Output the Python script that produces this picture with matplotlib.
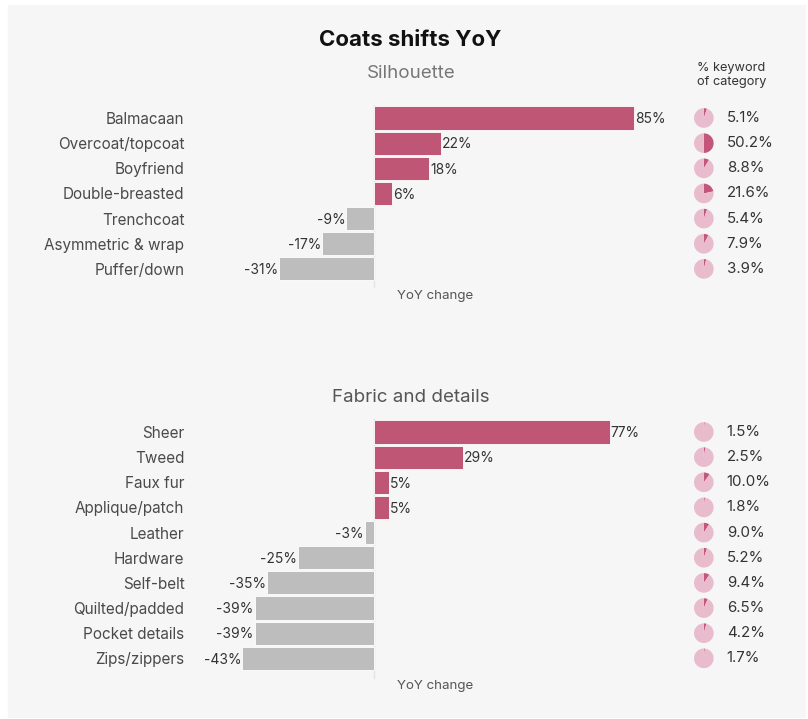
import matplotlib.pyplot as plt

W, H = 808, 719

# silhouette panel
sil_cats = ["Balmacaan", "Overcoat/topcoat", "Boyfriend", "Double-breasted",
            "Trenchcoat", "Asymmetric & wrap", "Puffer/down"]
sil_yoy = [85, 22, 18, 6, -9, -17, -31]
sil_share = [5.1, 50.2, 8.8, 21.6, 5.4, 7.9, 3.9]

# fabric and details panel
fab_cats = ["Sheer", "Tweed", "Faux fur", "Applique/patch", "Leather", "Hardware",
            "Self-belt", "Quilted/padded", "Pocket details", "Zips/zippers"]
fab_yoy = [77, 29, 5, 5, -3, -25, -35, -39, -39, -43]
fab_share = [1.5, 2.5, 10.0, 1.8, 9.0, 5.2, 9.4, 6.5, 4.2, 1.7]

PINK = "#bf5675"
GREY = "#bdbdbd"
PIE_LIGHT = "#e8bccd"
PIE_DARK = "#c2577b"
BG = "#f6f6f6"

plt.rcParams["font.family"] = ["Inter", "DejaVu Sans"]

fig = plt.figure(figsize=(W / 100, H / 100), dpi=100, facecolor="white")
fig.patches.append(plt.Rectangle((8 / W, 2 / H), 797 / W, 712 / H,
                                 transform=fig.transFigure, color=BG, zorder=-10))


def px_axes(x0, y0, x1, y1):
    # axes from pixel box (top-left origin)
    return fig.add_axes([x0 / W, 1 - y1 / H, (x1 - x0) / W, (y1 - y0) / H])


PX_PER_PCT = 3.06
AX_L, AX_R = 190, 660
ZERO_X = 374
ROW = 25.15


def panel(cats, yoy, share, top):
    n = len(cats)
    y0 = top - ROW / 2
    y1 = y0 + n * ROW
    ax = px_axes(AX_L, y0, AX_R, y1)
    ax.set_facecolor("none")
    ax.set_xlim(-(ZERO_X - AX_L) / PX_PER_PCT, (AX_R - ZERO_X) / PX_PER_PCT)
    ax.set_ylim(n - 0.5, -0.5)
    ypos = list(range(n))
    colors = [PINK if v > 0 else GREY for v in yoy]
    ax.barh(ypos, yoy, height=0.92, color=colors, edgecolor="white",
            linewidth=0.6, zorder=2)
    ax.axvline(0, ymin=-0.03, ymax=1, color="#e4e4e4", lw=1, zorder=1,
               clip_on=False)
    for y, v in zip(ypos, yoy):
        if v > 0:
            ax.text(v + 0.3, y + 0.05, f"{v}%", ha="left", va="center",
                    fontsize=10, color="#333333")
        else:
            ax.text(v - 0.3, y + 0.05, f"-{abs(v)}%", ha="right", va="center",
                    fontsize=10, color="#333333")
    ax.set_yticks(ypos)
    ax.set_yticklabels(cats, fontsize=11, color="#4a4a4a")
    ax.tick_params(axis="y", length=0, pad=4)
    ax.set_xticks([])
    for s in ax.spines.values():
        s.set_visible(False)

    # pies (y axis inverted, so angles are mirrored)
    pax = px_axes(690, y0, 800, y1)
    pax.set_facecolor("none")
    for y, s in zip(ypos, share):
        pax.pie([s, 100 - s], colors=[PIE_DARK, PIE_LIGHT], startangle=-90,
                counterclock=True, center=(0.55, y), radius=0.39,
                wedgeprops=dict(linewidth=0), frame=True)
        pax.text(1.46, y, f"{s:.1f}%", ha="left", va="center",
                 fontsize=10.8, color="#333333")
    pax.set_xlim(0, 110 / ROW)
    pax.set_ylim(n - 0.5, -0.5)
    pax.set_aspect("auto")
    pax.axis("off")
    return y1


sil_bottom = panel(sil_cats, sil_yoy, sil_share, 118)
fab_bottom = panel(fab_cats, fab_yoy, fab_share, 432)

fig.text(410 / W, 1 - 40 / H, "Coats shifts YoY", ha="center", va="center",
         fontsize=16, fontweight="bold", color="#111111")
fig.text(411 / W, 1 - 74 / H, "Silhouette", ha="center", va="center",
         fontsize=13.5, color="#777777")
fig.text(411 / W, 1 - 397 / H, "Fabric and details", ha="center", va="center",
         fontsize=13.5, color="#555555")
fig.text(697 / W, 1 - 75 / H, "% keyword\nof category", ha="left", va="center",
         fontsize=9.2, color="#333333", linespacing=1.15)
fig.text(435 / W, 1 - 296 / H, "YoY change", ha="center", va="center",
         fontsize=9.6, color="#555555")
fig.text(435 / W, 1 - 686 / H, "YoY change", ha="center", va="center",
         fontsize=9.6, color="#555555")

fig.savefig("out.png", dpi=100, facecolor="white")
